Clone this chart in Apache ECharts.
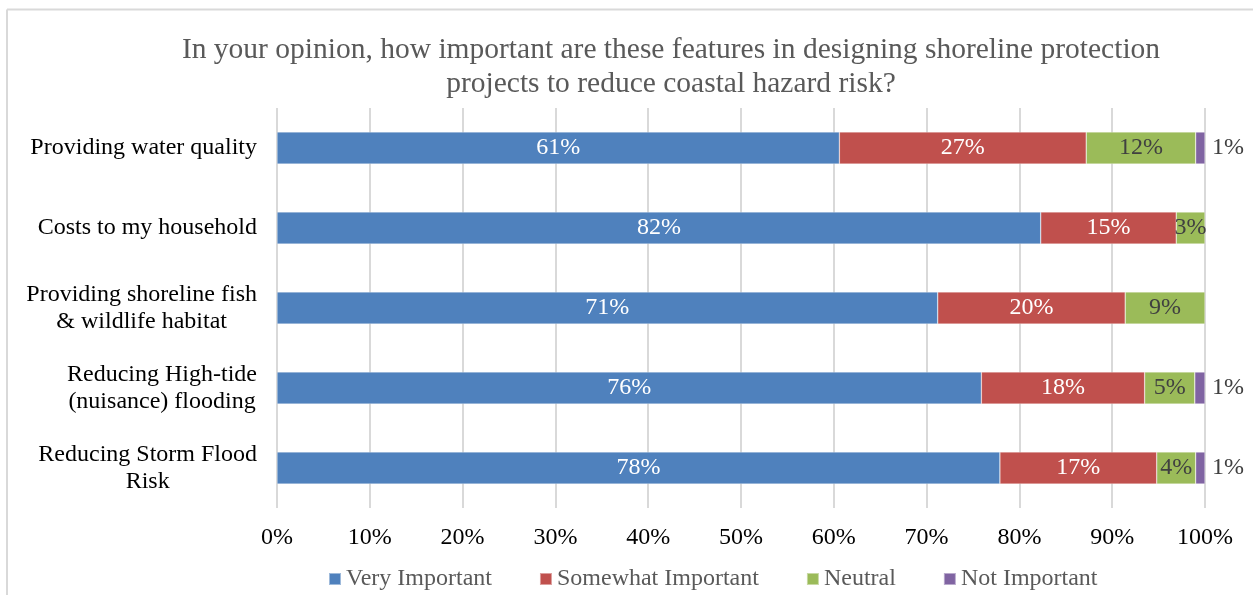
<!DOCTYPE html>
<html>
<head>
<meta charset="utf-8">
<title>Shoreline protection survey</title>
<script src="https://cdn.jsdelivr.net/npm/echarts@6/dist/echarts.min.js"></script>
<style>
  html, body { margin: 0; padding: 0; background: #ffffff; }
  #chart { width: 1253px; height: 595px; }
</style>
</head>
<body>
<div id="chart"></div>
<script>
// Survey categories, top to bottom
const categories = [
  'Providing water quality',
  'Costs to my household',
  'Providing shoreline fish\n& wildlife habitat',
  'Reducing High-tide\n(nuisance) flooding',
  'Reducing Storm Flood\nRisk'
];

// Share of respondents (%) per answer
const veryImportant     = [60.6, 82.3, 71.2, 75.9, 77.9];
const somewhatImportant = [26.6, 14.6, 20.2, 17.6, 16.9];
const neutral           = [11.8, 3.1, 8.6, 5.4, 4.2];
const notImportant      = [1.0, null, null, 1.1, 1.0];

const seriesNames = ['Very Important', 'Somewhat Important', 'Neutral', 'Not Important'];
const xTicks = [0, 10, 20, 30, 40, 50, 60, 70, 80, 90, 100];

const FONT = "'Liberation Serif', 'Times New Roman', serif";
const colors = ['#4F81BD', '#C0504D', '#9BBB59', '#8064A2'];

const pct = p => Math.round(p.value) + '%';

function barSeries(name, data, color, label) {
  return {
    name: name,
    type: 'bar',
    stack: 'total',
    barWidth: 32,
    data: data,
    itemStyle: { color: color, borderColor: 'rgba(255,255,255,0.45)', borderWidth: 0.6 },
    label: Object.assign({
      show: true,
      formatter: pct,
      fontFamily: FONT,
      fontSize: 24
    }, label),
    emphasis: { disabled: true }
  };
}

const chart = echarts.init(document.getElementById('chart'), null, { renderer: 'canvas' });

chart.setOption({
  animation: false,
  backgroundColor: '#ffffff',
  color: colors,
  title: {
    text: 'In your opinion, how important are these features in designing shoreline protection\nprojects to reduce coastal hazard risk?',
    left: 666,
    top: 28,
    textAlign: 'center',
    textStyle: {
      fontFamily: FONT,
      fontSize: 29.5,
      fontWeight: 'normal',
      color: '#595959',
      lineHeight: 34
    }
  },
  graphic: [
    { type: 'line', shape: { x1: 7, y1: 9.5, x2: 1253, y2: 9.5 }, style: { stroke: '#d9d9d9', lineWidth: 2 }, silent: true },
    { type: 'line', shape: { x1: 7, y1: 9.5, x2: 7, y2: 595 }, style: { stroke: '#d9d9d9', lineWidth: 2 }, silent: true }
  ],
  legend: {
    data: seriesNames,
    left: 323,
    top: 562,
    icon: 'rect',
    itemWidth: 12,
    itemHeight: 12,
    itemGap: 47,
    textStyle: { fontFamily: FONT, fontSize: 24, color: '#595959' }
  },
  grid: { left: 277, right: 48, top: 108, bottom: 87, containLabel: false },
  xAxis: {
    type: 'value',
    min: xTicks[0],
    max: xTicks[xTicks.length - 1],
    interval: xTicks[1] - xTicks[0],
    axisLine: { show: false },
    axisTick: { show: false },
    splitLine: { show: true, lineStyle: { color: '#d9d9d9', width: 2 } },
    axisLabel: {
      formatter: '{value}%',
      fontFamily: FONT,
      fontSize: 24,
      color: '#000000',
      margin: 18
    }
  },
  yAxis: {
    type: 'category',
    data: categories,
    inverse: true,
    axisLine: { show: false },
    axisTick: { show: false },
    splitLine: { show: false },
    axisLabel: {
      // each line is centred within the right-anchored label block
      formatter: v => v.split('\n').map(s => '{c|' + s + '}').join('\n'),
      rich: {
        c: { align: 'center', fontFamily: FONT, fontSize: 24, color: '#000000', lineHeight: 27 }
      },
      fontFamily: FONT,
      fontSize: 24,
      color: '#000000',
      lineHeight: 27,
      align: 'right',
      margin: 20
    }
  },
  series: [
    barSeries(seriesNames[0], veryImportant, colors[0], { position: 'inside', color: '#ffffff' }),
    barSeries(seriesNames[1], somewhatImportant, colors[1], { position: 'inside', color: '#ffffff' }),
    barSeries(seriesNames[2], neutral, colors[2], { position: 'inside', color: '#404040' }),
    barSeries(seriesNames[3], notImportant, colors[3], { position: 'right', distance: 7, color: '#404040' })
  ]
});
</script>
</body>
</html>
